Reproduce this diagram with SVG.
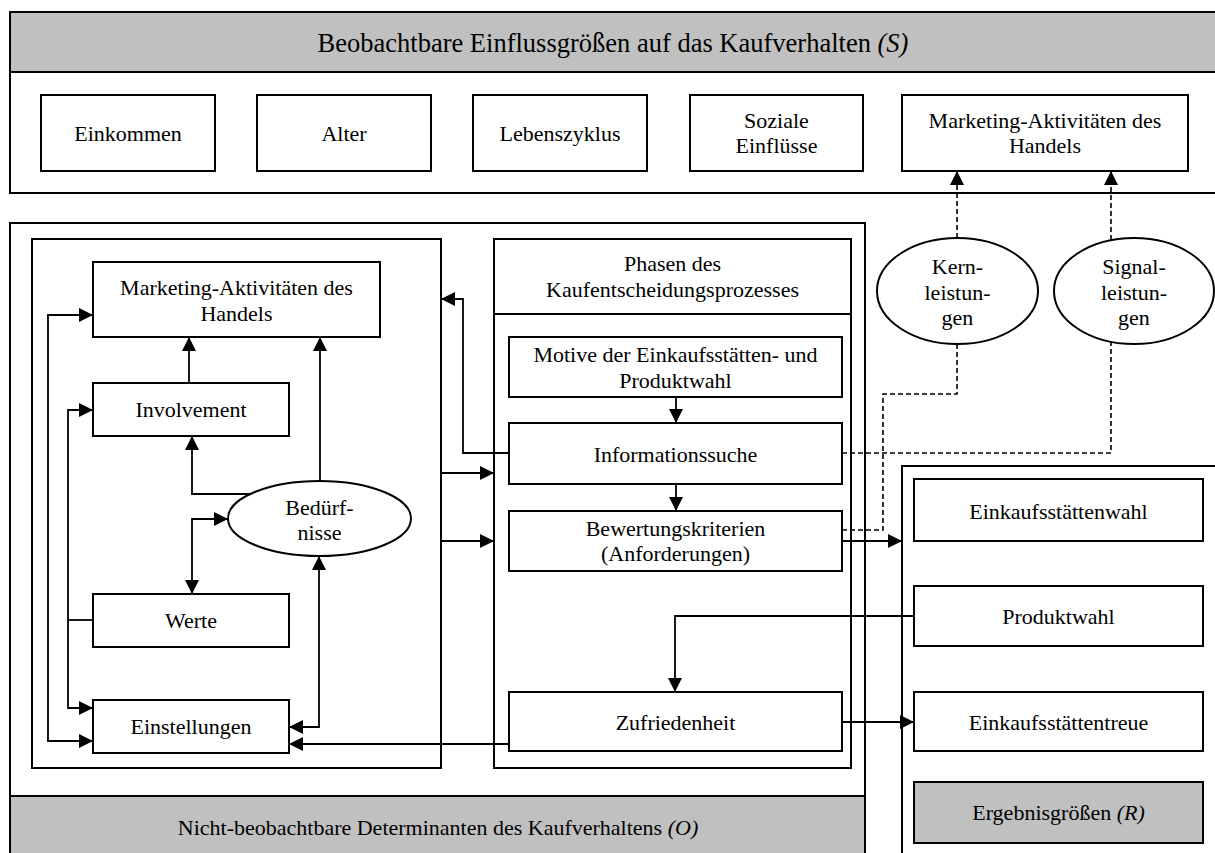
<svg xmlns="http://www.w3.org/2000/svg" width="1215" height="853" viewBox="0 0 1215 853">
  <style>
    .box { fill: #ffffff; stroke: #000000; stroke-width: 2; }
    .gray { fill: #c0c0c0; stroke: #000000; stroke-width: 2; }
    .frame { fill: none; stroke: #000000; stroke-width: 2; }
    .ln { fill: none; stroke: #000000; stroke-width: 1.8; }
    .dash { fill: none; stroke: #000000; stroke-width: 1.6; stroke-dasharray: 5 3; }
    text { font-family: "Liberation Serif", "Times New Roman", serif; font-size: 22px; fill: #000000; text-anchor: middle; }
    .title { font-size: 26.5px; }
    .it { font-style: italic; }
  </style>
  <defs>
    <marker id="ah" markerUnits="userSpaceOnUse" markerWidth="14" markerHeight="14" refX="14" refY="7" orient="auto-start-reverse">
      <path d="M0,0 L14,7 L0,14 Z" fill="#000000" stroke="none"/>
    </marker>
  </defs>

  <rect width="1215" height="853" fill="#ffffff"/>

  <!-- observable influences panel (S) -->
  <g id="panel-s">
    <rect class="box" x="10" y="12" width="1220" height="181"/>
    <rect class="gray" x="10" y="12" width="1220" height="60"/>
    <text class="title" x="613" y="52">Beobachtbare Einflussgrößen auf das Kaufverhalten <tspan class="it">(S)</tspan></text>
  </g>
  <g id="einkommen">
    <rect class="box" x="41" y="95" width="174" height="76"/>
    <text x="128" y="141">Einkommen</text>
  </g>
  <g id="alter">
    <rect class="box" x="257" y="95" width="174" height="76"/>
    <text x="344" y="141">Alter</text>
  </g>
  <g id="lebenszyklus">
    <rect class="box" x="473" y="95" width="174" height="76"/>
    <text x="560" y="141">Lebenszyklus</text>
  </g>
  <g id="soziale-einfluesse">
    <rect class="box" x="690" y="95" width="173" height="76"/>
    <text x="776.5" y="128">Soziale</text>
    <text x="776.5" y="153">Einflüsse</text>
  </g>
  <g id="marketing-s">
    <rect class="box" x="902" y="95" width="286" height="76"/>
    <text x="1045" y="128">Marketing-Aktivitäten des</text>
    <text x="1045" y="153">Handels</text>
  </g>

  <!-- non-observable determinants panel (O) -->
  <g id="panel-o">
    <rect class="frame" x="10" y="223" width="855" height="650"/>
    <rect class="gray" x="10" y="796" width="855" height="80"/>
    <text x="438" y="835">Nicht-beobachtbare Determinanten des Kaufverhaltens <tspan class="it">(O)</tspan></text>
  </g>
  <g id="psych-frame">
    <rect class="frame" x="32" y="239" width="409" height="529"/>
  </g>
  <g id="marketing-o">
    <rect class="box" x="93" y="262" width="287" height="75"/>
    <text x="236.5" y="295">Marketing-Aktivitäten des</text>
    <text x="236.5" y="321">Handels</text>
  </g>
  <g id="involvement">
    <rect class="box" x="93" y="383" width="196" height="53"/>
    <text x="191" y="417">Involvement</text>
  </g>
  <g id="beduerfnisse">
    <ellipse class="box" cx="319.5" cy="518.5" rx="91.5" ry="37.5"/>
    <text x="319.5" y="515">Bedürf-</text>
    <text x="319.5" y="540">nisse</text>
  </g>
  <g id="werte">
    <rect class="box" x="93" y="594" width="196" height="53"/>
    <text x="191" y="628">Werte</text>
  </g>
  <g id="einstellungen">
    <rect class="box" x="93" y="700" width="196" height="53"/>
    <text x="191" y="734">Einstellungen</text>
  </g>

  <g id="phasen">
    <rect class="frame" x="494" y="239" width="357" height="529"/>
    <line class="frame" x1="494" y1="314" x2="851" y2="314"/>
    <text x="672.5" y="271">Phasen des</text>
    <text x="672.5" y="297">Kaufentscheidungsprozesses</text>
  </g>
  <g id="motive">
    <rect class="box" x="509" y="337" width="333" height="60"/>
    <text x="675.5" y="362">Motive der Einkaufsstätten- und</text>
    <text x="675.5" y="388">Produktwahl</text>
  </g>
  <g id="informationssuche">
    <rect class="box" x="509" y="423" width="333" height="61"/>
    <text x="675.5" y="462">Informationssuche</text>
  </g>
  <g id="bewertungskriterien">
    <rect class="box" x="509" y="511" width="333" height="60"/>
    <text x="675.5" y="536">Bewertungskriterien</text>
    <text x="675.5" y="561">(Anforderungen)</text>
  </g>
  <g id="zufriedenheit">
    <rect class="box" x="509" y="692" width="333" height="59"/>
    <text x="675.5" y="730">Zufriedenheit</text>
  </g>

  <!-- service ellipses -->
  <g id="kernleistungen">
    <ellipse class="box" cx="957.5" cy="291" rx="80.5" ry="53"/>
    <text x="957.5" y="274">Kern-</text>
    <text x="957.5" y="300">leistun-</text>
    <text x="957.5" y="325">gen</text>
  </g>
  <g id="signalleistungen">
    <ellipse class="box" cx="1134" cy="291" rx="80" ry="53"/>
    <text x="1134" y="274">Signal-</text>
    <text x="1134" y="300">leistun-</text>
    <text x="1134" y="325">gen</text>
  </g>

  <!-- outcome panel (R) -->
  <g id="panel-r">
    <rect class="frame" x="902" y="466" width="330" height="400"/>
  </g>
  <g id="einkaufsstaettenwahl">
    <rect class="box" x="914" y="479" width="289" height="62"/>
    <text x="1058.5" y="519">Einkaufsstättenwahl</text>
  </g>
  <g id="produktwahl">
    <rect class="box" x="914" y="586" width="289" height="60"/>
    <text x="1058.5" y="624">Produktwahl</text>
  </g>
  <g id="einkaufsstaettentreue">
    <rect class="box" x="914" y="692" width="289" height="59"/>
    <text x="1058.5" y="730">Einkaufsstättentreue</text>
  </g>
  <g id="ergebnisgroessen">
    <rect class="gray" x="914" y="782" width="289" height="61"/>
    <text x="1058.5" y="820">Ergebnisgrößen <tspan class="it">(R)</tspan></text>
  </g>

  <g id="connectors">
    <path class="ln" d="M93,315 H48 V741 H93" marker-start="url(#ah)" marker-end="url(#ah)"/>
    <path class="ln" d="M93,410 H68 V708 H93" marker-start="url(#ah)" marker-end="url(#ah)"/>
    <path class="ln" d="M93,620 H68"/>
    <path class="ln" d="M189,383 V337" marker-end="url(#ah)"/>
    <path class="ln" d="M250,494 H192 V436" marker-end="url(#ah)"/>
    <path class="ln" d="M192,594 V519 H228" marker-start="url(#ah)" marker-end="url(#ah)"/>
    <path class="ln" d="M320,481 V337" marker-end="url(#ah)"/>
    <path class="ln" d="M289,727 H319 V556" marker-start="url(#ah)" marker-end="url(#ah)"/>
    <path class="ln" d="M509,744 H289" marker-end="url(#ah)"/>
    <path class="ln" d="M441,473 H494" marker-end="url(#ah)"/>
    <path class="ln" d="M441,541 H494" marker-end="url(#ah)"/>
    <path class="ln" d="M509,453 H463 V299 H441" marker-end="url(#ah)"/>
    <path class="ln" d="M676,397 V423" marker-end="url(#ah)"/>
    <path class="ln" d="M676,484 V511" marker-end="url(#ah)"/>
    <path class="ln" d="M842,541 H902" marker-end="url(#ah)"/>
    <path class="ln" d="M914,616 H675 V692" marker-end="url(#ah)"/>
    <path class="ln" d="M842,722 H914" marker-end="url(#ah)"/>
    <path class="dash" d="M957,238 V171" marker-end="url(#ah)"/>
    <path class="dash" d="M1111,240 V171" marker-end="url(#ah)"/>
    <path class="dash" d="M842,530 H883 V394 H957 V344"/>
    <path class="dash" d="M842,453 H1111 V342"/>
  </g>
</svg>
